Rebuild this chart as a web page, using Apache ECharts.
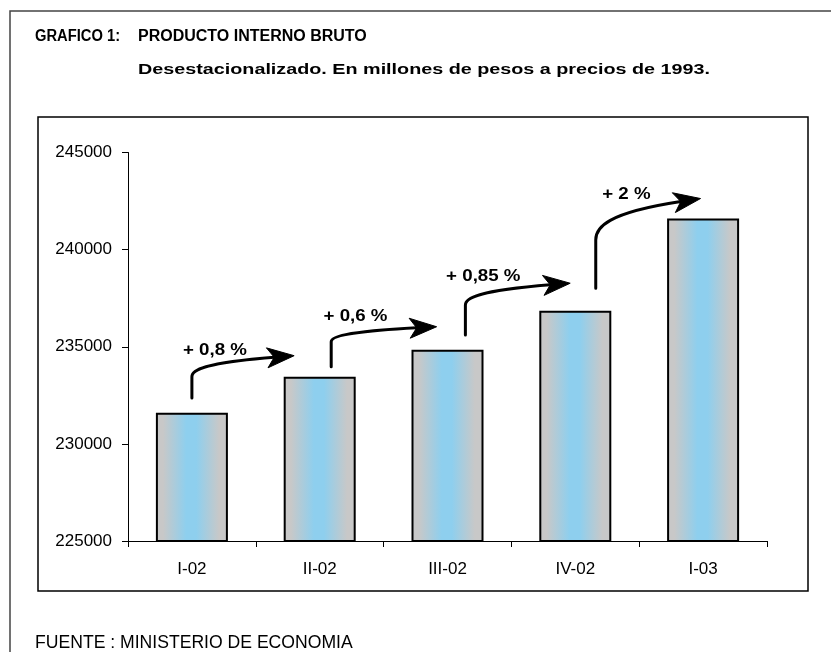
<!DOCTYPE html>
<html>
<head>
<meta charset="utf-8">
<script src="https://cdn.jsdelivr.net/npm/echarts@6/dist/echarts.min.js"></script>
<style>
html,body{margin:0;padding:0;background:#fff;}
#chart{width:831px;height:652px;}
</style>
</head>
<body>
<div id="chart"></div>
<script>
// ---- data ----
const categories = ['I-02', 'II-02', 'III-02', 'IV-02', 'I-03'];
const pibValues = [231600, 233450, 234850, 236850, 241600];
const yTicks = [225000, 230000, 235000, 240000, 245000];
// growth annotations: label text, label position (category units, value)
const growthLabels = ['+ 0,8 %', '+ 0,6 %', '+ 0,85 %', '+ 2 %'];
const growthLabelX = [0.18, 1.28, 2.28, 3.40];
const growthLabelY = [234800, 236550, 238610, 242850];
// arrows: start x, start value, bend value, tip x, tip value
const arrowStartX = [0.0, 1.09, 2.14, 3.16];
const arrowStartY = [232360, 233970, 235600, 238010];
const arrowBendY = [233460, 235260, 237150, 240500];
const arrowTipX = [0.80, 1.915, 2.96, 3.98];
const arrowTipY = [234540, 236030, 238270, 242630];

const FONT = '"Liberation Sans", Arial, Helvetica, sans-serif';

const arrowData = arrowStartX.map((x, i) => [x, arrowStartY[i], arrowBendY[i], arrowTipX[i], arrowTipY[i]]);
const labelData = growthLabels.map((t, i) => [growthLabelX[i], growthLabelY[i], t]);

const chart = echarts.init(document.getElementById('chart'), null, {renderer: 'canvas'});

const option = {
  backgroundColor: '#ffffff',
  animation: false,
  grid: {left: 128, right: 64, top: 152.5, bottom: 111, containLabel: false},
  graphic: [
    {type: 'rect', shape: {x: 10, y: 11, width: 900, height: 800},
     style: {fill: 'none', stroke: '#444', lineWidth: 1.5}, z: -10},
    {type: 'rect', shape: {x: 38, y: 117, width: 770, height: 474},
     style: {fill: 'none', stroke: '#000', lineWidth: 1.5}, z: -10},
    {type: 'text', x: 35, y: 37, scaleX: 0.92,
     style: {text: 'GRAFICO 1:', font: 'bold 16px ' + FONT, fill: '#000', verticalAlign: 'middle'}},
    {type: 'text', x: 138, y: 37,
     style: {text: 'PRODUCTO INTERNO BRUTO', font: 'bold 16px ' + FONT, fill: '#000', verticalAlign: 'middle'}},
    {type: 'text', x: 138, y: 70, scaleX: 1.317,
     style: {text: 'Desestacionalizado. En millones de pesos a precios de 1993.', font: 'bold 15px ' + FONT, fill: '#000', verticalAlign: 'middle'}},
    {type: 'text', x: 35, y: 643,
     style: {text: 'FUENTE : MINISTERIO DE ECONOMIA', font: '17.6px ' + FONT, fill: '#000', verticalAlign: 'middle'}}
  ],
  xAxis: [
    {
      type: 'category',
      data: categories,
      boundaryGap: true,
      axisLine: {show: true, onZero: false, lineStyle: {color: '#000', width: 1}},
      axisTick: {show: true, length: 6, lineStyle: {color: '#000'}},
      axisLabel: {color: '#000', fontSize: 17, fontFamily: FONT, margin: 20},
      splitLine: {show: false}
    },
    {
      type: 'value', min: -0.5, max: 4.5, show: false
    }
  ],
  yAxis: {
    type: 'value',
    min: yTicks[0],
    max: yTicks[yTicks.length - 1],
    interval: yTicks[1] - yTicks[0],
    axisLine: {show: true, onZero: false, lineStyle: {color: '#000', width: 1}},
    axisTick: {show: true, length: 6, lineStyle: {color: '#000'}},
    axisLabel: {color: '#000', fontSize: 17, fontFamily: FONT, margin: 16,
                formatter: v => String(v)},
    splitLine: {show: false}
  },
  series: [
    {
      type: 'bar',
      xAxisIndex: 0,
      data: pibValues,
      barWidth: 72,
      itemStyle: {
        color: {
          type: 'linear', x: 0, y: 0, x2: 1, y2: 0,
          colorStops: [
            {offset: 0, color: '#c8c8c8'},
            {offset: 0.1, color: '#c8c8c8'},
            {offset: 0.42, color: '#8ecfee'},
            {offset: 0.56, color: '#8ecfee'},
            {offset: 0.88, color: '#c8c8c8'},
            {offset: 1, color: '#c8c8c8'}
          ]
        },
        borderColor: '#000',
        borderWidth: 2
      }
    },
    {
      type: 'custom',
      xAxisIndex: 1,
      yAxisIndex: 0,
      data: arrowData,
      z: 5,
      renderItem: function (params, api) {
        const S = api.coord([api.value(0), api.value(1)]);
        const C = api.coord([api.value(0), api.value(2)]);
        const T = api.coord([api.value(3), api.value(4)]);
        const dx = T[0] - C[0], dy = C[1] - T[1];
        const cp1 = [C[0], C[1] - 0.3 * dy];
        const cp2 = [C[0] + 0.1 * dx, T[1] + 0.35 * dy];
        let ux = T[0] - cp2[0], uy = T[1] - cp2[1];
        const len = Math.hypot(ux, uy); ux /= len; uy /= len;
        const px = -uy, py = ux;
        const notch = [T[0] - ux * 20, T[1] - uy * 20];
        const base = [T[0] - ux * 27, T[1] - uy * 27];
        const b1 = [base[0] + px * 10, base[1] + py * 10];
        const b2 = [base[0] - px * 10, base[1] - py * 10];
        const path = 'M' + S[0] + ' ' + S[1] + ' L' + C[0] + ' ' + C[1] +
          ' C' + cp1[0] + ' ' + cp1[1] + ' ' + cp2[0] + ' ' + cp2[1] + ' ' + notch[0] + ' ' + notch[1];
        return {
          type: 'group',
          children: [
            {type: 'path', shape: {pathData: path},
             style: {fill: 'none', stroke: '#000', lineWidth: 3, lineCap: 'round'}},
            {type: 'polygon', shape: {points: [T, b1, notch, b2]},
             style: {fill: '#000', stroke: '#000', lineWidth: 1}}
          ]
        };
      }
    },
    {
      type: 'custom',
      xAxisIndex: 1,
      yAxisIndex: 0,
      data: labelData,
      z: 6,
      renderItem: function (params, api) {
        const p = api.coord([api.value(0), api.value(1)]);
        return {
          type: 'text', x: p[0], y: p[1], scaleX: 1.1,
          style: {text: labelData[params.dataIndex][2], font: 'bold 17px ' + FONT,
                  fill: '#000', align: 'center', verticalAlign: 'middle'}
        };
      }
    }
  ]
};
chart.setOption(option);
</script>
</body>
</html>
